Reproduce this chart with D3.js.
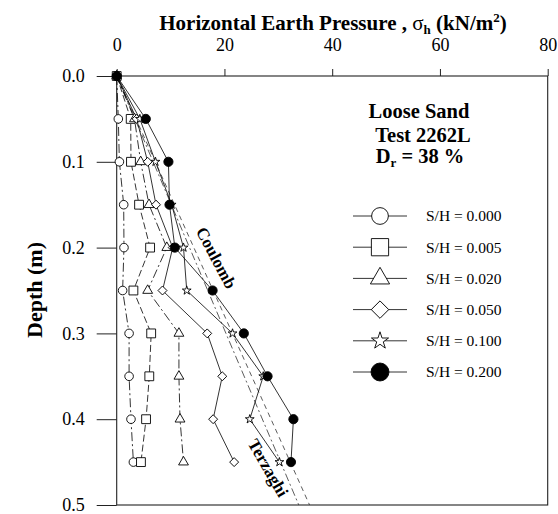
<!DOCTYPE html>
<html>
<head>
<meta charset="utf-8">
<script src="https://cdn.jsdelivr.net/npm/d3@7"></script>
<style>
  html, body { margin: 0; padding: 0; background: #fff; }
  svg { display: block; }
  text { font-family: "Liberation Serif", "Times New Roman", serif; fill: #000; }
</style>
</head>
<body>
<svg id="chart" width="558" height="514"></svg>
<script>
// Depth of each pressure cell (m)
const depth = [0, 0.05, 0.10, 0.15, 0.20, 0.25, 0.30, 0.35, 0.40, 0.45];

// Measured horizontal earth pressure (kN/m²) for each wall movement S/H
const sh000 = [0, 0.3, 0.5, 1.3, 1.35, 1.1, 2.3, 2.3, 2.65, 3.1];
const sh005 = [0, 2.6, 2.65, 4.15, 6.2, 3.1, 6.4, 6.05, 5.45, 4.5];
const sh020 = [0, 3.3, 4.45, 6.0, 9.3, 5.75, 11.55, 11.55, 11.75, 12.4];
const sh050 = [0, 3.7, 5.75, 7.3, 10.4, 8.5, 16.8, 19.6, 17.9, 21.8];
const sh100 = [0, 4.3, 7.2, 10.2, 12.4, 13.0, 21.5, 27.2, 24.7, 30.2];
const sh200 = [0, 5.4, 9.6, 9.8, 10.8, 17.8, 23.6, 28.0, 32.8, 32.35];

const seriesLabels = ["S/H = 0.000", "S/H = 0.005", "S/H = 0.020", "S/H = 0.050", "S/H = 0.100", "S/H = 0.200"];

// Theoretical active pressure lines: [depth, pressure]
const coulomb = [[0, 0], [0.5, 35.8]];
const terzaghi = [[0, 0], [0.5, 33.8]];

const xTicks = [0, 20, 40, 60, 80];
const yTicks = [0, 0.1, 0.2, 0.3, 0.4, 0.5];

const svg = d3.select("#chart");
const plotLeft = 116.7, plotRight = 547.7, plotTop = 76, plotBottom = 505;

const x = d3.scaleLinear().domain([0, 80]).range([plotLeft, plotRight]);
const y = d3.scaleLinear().domain([0, 0.5]).range([plotTop, plotBottom]);

// Series styling: marker type and dash pattern
const series = [
  { values: sh000, sym: "circle",  dash: "9,3,2,3" },
  { values: sh005, sym: "square",  dash: "7,3" },
  { values: sh020, sym: "triangle", dash: "9,3,2,3" },
  { values: sh050, sym: "diamond", dash: null },
  { values: sh100, sym: "star",    dash: null },
  { values: sh200, sym: "filled",  dash: null }
];

function marker(g, type, cx, cy, s) {
  if (type === "circle") {
    g.append("circle").attr("cx", cx).attr("cy", cy).attr("r", 4.3 * s)
      .attr("fill", "#fff").attr("stroke", "#000").attr("stroke-width", 0.9);
  } else if (type === "filled") {
    g.append("circle").attr("cx", cx).attr("cy", cy).attr("r", 4.6 * s)
      .attr("fill", "#000").attr("stroke", "#000").attr("stroke-width", 0.9);
  } else {
    let sym, size, rot = 0;
    if (type === "square") { sym = d3.symbolSquare; size = 78 * s * s; }
    if (type === "triangle") { sym = d3.symbolTriangle; size = 42 * s * s; }
    if (type === "diamond") { sym = d3.symbolSquare; size = 40 * s * s; rot = 45; }
    if (type === "star") { sym = d3.symbolStar; size = 24 * s * s; }
    g.append("path").attr("d", d3.symbol(sym, size)())
      .attr("transform", `translate(${cx},${cy}) rotate(${rot})`)
      .attr("fill", "#fff").attr("stroke", "#000").attr("stroke-width", 0.9);
  }
}

// Frame
svg.append("rect")
  .attr("x", plotLeft).attr("y", plotTop)
  .attr("width", plotRight - plotLeft).attr("height", plotBottom - plotTop)
  .attr("fill", "none").attr("stroke", "#222").attr("stroke-width", 1.1);

// Top axis
const xAxis = d3.axisTop(x).tickValues(xTicks).tickFormat(d3.format("d"))
  .tickSize(7).tickSizeOuter(0).tickPadding(18);
const gx = svg.append("g").attr("transform", `translate(0,${plotTop})`).call(xAxis);
gx.select(".domain").remove();
gx.selectAll(".tick line").attr("stroke", "#222");
gx.selectAll(".tick text").attr("font-size", 18).attr("font-family", "Liberation Serif");

// Left axis
const yAxis = d3.axisLeft(y).tickValues(yTicks).tickFormat(d3.format(".1f"))
  .tickSize(20).tickSizeOuter(0).tickPadding(12);
const gy = svg.append("g").attr("transform", `translate(${plotLeft},0)`).call(yAxis);
gy.select(".domain").remove();
gy.selectAll(".tick line").attr("stroke", "#222");
gy.selectAll(".tick text").attr("font-size", 18).attr("font-family", "Liberation Serif");

// Theoretical lines
const theoryLine = d3.line().x(d => x(d[1])).y(d => y(d[0]));
svg.append("path").attr("d", theoryLine(coulomb))
  .attr("fill", "none").attr("stroke", "#333").attr("stroke-width", 0.8)
  .attr("stroke-dasharray", "5,4");
svg.append("path").attr("d", theoryLine(terzaghi))
  .attr("fill", "none").attr("stroke", "#333").attr("stroke-width", 0.8)
  .attr("stroke-dasharray", "8,3,2,3");

// Measured profiles
const line = d3.line().x(d => x(d.p)).y(d => y(d.z));
const plot = svg.append("g");
series.forEach(s => {
  const pts = depth.map((z, i) => ({ z, p: s.values[i] }));
  plot.append("path").attr("d", line(pts))
    .attr("fill", "none").attr("stroke", "#000").attr("stroke-width", 0.8)
    .attr("stroke-dasharray", s.dash);
});
series.forEach(s => {
  depth.forEach((z, i) => marker(plot, s.sym, x(s.values[i]), y(z), 1));
});

// Theory labels
svg.append("text").attr("transform", "translate(216,258) rotate(62)")
  .attr("text-anchor", "middle").attr("dominant-baseline", "central")
  .attr("font-size", 17).attr("font-weight", "bold").text("Coulomb");
svg.append("text").attr("transform", "translate(268,468) rotate(60)")
  .attr("text-anchor", "middle").attr("dominant-baseline", "central")
  .attr("font-size", 17).attr("font-weight", "bold").text("Terzaghi");

// Test description
const info = svg.append("g").attr("font-weight", "bold").attr("font-size", 20.5);
info.append("text").attr("x", 419).attr("y", 118).attr("text-anchor", "middle").text("Loose Sand");
info.append("text").attr("x", 423).attr("y", 142).attr("text-anchor", "middle").text("Test 2262L");
const dr = info.append("text").attr("x", 420).attr("y", 163).attr("text-anchor", "middle");
dr.append("tspan").text("D");
dr.append("tspan").attr("font-size", 13).attr("dy", 4).text("r");
dr.append("tspan").attr("dy", -4).text(" = 38 %");

// Legend
const legendY = d3.scaleLinear().domain([0, 5]).range([216, 372]);
const legend = svg.append("g");
series.forEach((s, i) => {
  const ly = legendY(i);
  legend.append("line").attr("x1", 353).attr("x2", 407).attr("y1", ly).attr("y2", ly)
    .attr("stroke", "#000").attr("stroke-width", 0.8);
  marker(legend, s.sym, 380, ly, 1.95);
  legend.append("text").attr("x", 426).attr("y", ly).attr("dy", "0.35em")
    .attr("font-size", 15.5).text(seriesLabels[i]);
});

// Axis titles
const title = svg.append("text").attr("x", 333).attr("y", 30).attr("text-anchor", "middle")
  .attr("font-size", 21).attr("font-weight", "bold");
title.append("tspan").text("Horizontal Earth Pressure , ");
title.append("tspan").attr("font-weight", "normal").text("σ");
title.append("tspan").attr("font-size", 13).attr("dy", 4).text("h");
title.append("tspan").attr("dy", -4).text(" (kN/m");
title.append("tspan").attr("font-size", 13).attr("dy", -8).text("2");
title.append("tspan").attr("dy", 8).text(")");

svg.append("text").attr("transform", "translate(34,290) rotate(-90)")
  .attr("text-anchor", "middle").attr("dominant-baseline", "central")
  .attr("font-size", 22).attr("font-weight", "bold").text("Depth (m)");
</script>
</body>
</html>
